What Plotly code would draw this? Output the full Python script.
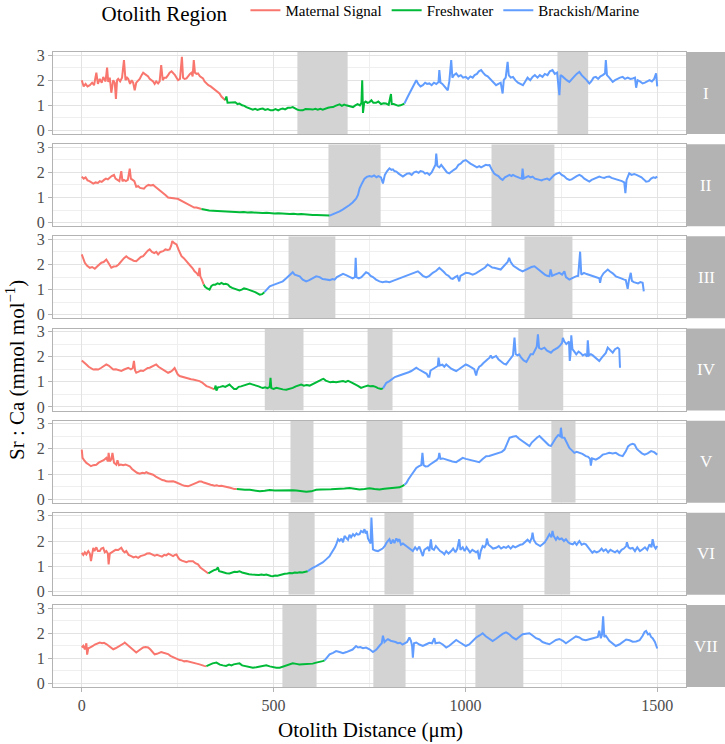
import plotly.graph_objects as go

PANELS = ["I", "II", "III", "IV", "V", "VI", "VII"]
REGIONS = ["Maternal Signal", "Freshwater", "Brackish/Marine"]
COLORS = ["#F8766D", "#00BA38", "#619CFF"]
X_TICKS = [0, 500, 1000, 1500]
Y_TICKS = [0, 1, 2, 3]

# (distance um, Sr:Ca) readings per fish
PTS_I = [(0,2.0),(5,1.75),(10,1.85),(15,1.75),(21,1.8),(27,1.9),(32,1.8),(38,2.3),(42,1.85),(47,2.05),(52,1.9),(56,2.13),(62,1.95),(66,2.5),(69,1.93),(73,2.1),(77,1.5),(82,2.0),(86,1.9),(89,1.25),(92,2.0),(95,2.05),(100,1.95),(105,2.1),(110,2.8),(114,2.0),(118,2.1),(121,2.05),(126,1.85),(130,2.0),(134,1.9),(138,1.6),(142,1.9),(146,1.95),(151,2.05),(156,2.2),(160,2.3),(164,2.25),(168,2.2),(173,2.15),(177,2.05),(181,2.0),(186,1.95),(190,1.85),(194,1.95),(199,1.87),(203,1.95),(207,2.6),(211,2.0),(215,2.1),(220,2.1),(225,2.2),(229,2.3),(234,2.35),(238,2.3),(243,2.2),(247,2.1),(251,2.0),(256,2.05),(261,2.93),(264,2.1),(268,2.05),(273,2.07),(278,2.2),(282,2.25),(286,2.3),(289,2.15),(292,2.8),(295,2.3),(299,2.25),(303,2.27),(308,2.15),(312,2.1),(316,2.07),(320,1.95),(325,1.87),(330,1.8),(336,1.75),(342,1.67),(348,1.6),(353,1.55),(359,1.47),(364,1.35),(369,1.28),(374,1.2),
         (377,1.35),(380,1.1),(388,1.1),(394,1.09),(400,1.12),(406,1.05),(411,1.07),(418,1.0),(424,0.98),(429,0.93),(435,0.9),(441,0.85),(446,0.83),(452,0.86),(458,0.82),(465,0.85),(472,0.87),(478,0.82),(485,0.85),(492,0.8),(498,0.8),(505,0.85),(512,0.8),(518,0.85),(524,0.87),(530,0.84),(537,0.9),(543,0.9),(550,0.93),(556,0.88),(563,0.82),(570,0.8),(576,0.8),(583,0.85),(590,0.83),(596,0.84),(602,0.83),(609,0.86),(615,0.83),(622,0.86),(628,0.83),(635,0.88),(642,0.9),(648,0.92),(655,0.93),(661,0.98),(667,1.02),(672,1.04),(678,0.98),(684,1.03),(689,1.0),(695,0.97),(701,0.95),(707,0.93),(713,1.0),(719,1.05),(725,1.0),(729,1.1),(731,2.0),(733,0.7),(736,1.1),(740,1.15),(745,1.1),(750,1.13),(755,1.2),(760,1.1),(767,1.1),(773,1.15),(780,1.05),(787,1.08),(793,1.07),(800,1.02),(806,1.45),(808,1.05),(813,1.05),(819,1.0),(825,0.98),(831,1.0),(837,1.05),(841,1.07),
         (846,1.2),(850,1.35),(854,1.47),(860,1.65),(866,1.85),(872,2.0),(877,1.85),(883,1.75),(889,1.8),(895,1.9),(900,1.85),(906,1.87),(912,1.8),(918,1.9),(924,1.85),(930,1.93),(932,2.4),(935,1.9),(940,1.85),(945,1.75),(950,1.65),(954,1.6),(958,1.95),(963,2.8),(966,2.1),(970,2.2),(976,2.27),(982,2.15),(988,2.2),(994,2.1),(1001,2.13),(1007,2.05),(1013,2.15),(1019,2.1),(1024,2.2),(1030,2.25),(1035,2.35),(1041,2.4),(1046,2.3),(1052,2.2),(1058,2.15),(1063,2.07),(1069,1.95),(1075,1.85),(1080,1.8),(1086,1.85),(1092,1.9),(1097,1.47),(1100,2.0),(1105,2.1),(1110,2.73),(1113,2.2),(1118,2.1),(1124,2.13),(1130,2.0),(1137,1.9),(1143,1.85),(1150,1.8),(1156,1.95),(1162,2.1),(1169,2.0),(1175,2.13),(1181,2.2),(1188,2.1),(1194,2.2),(1201,2.13),(1207,2.25),(1214,2.2),(1220,2.35),(1227,2.4),(1233,2.25),(1239,2.3),(1245,1.4),(1248,2.2),(1253,2.15),(1258,2.07),(1264,2.0),(1271,1.93),(1277,2.05),(1284,2.15),(1290,2.25),(1297,2.33),(1303,2.2),(1310,2.1),(1316,2.0),(1323,1.87),(1328,1.95),(1334,2.1),(1340,2.13),(1346,2.05),(1352,2.15),(1358,2.2),(1364,2.27),(1366,2.8),(1369,2.2),(1375,2.1),(1380,2.0),(1384,1.93),(1390,2.0),(1397,2.07),(1403,2.1),(1410,2.13),(1416,2.05),(1423,2.1),(1430,2.05),(1436,2.07),(1442,2.1),(1445,1.7),(1449,2.0),(1455,1.95),(1462,1.87),(1468,1.9),(1474,1.95),(1480,2.0),(1486,1.95),(1492,2.05),(1497,2.27),(1500,1.75)]

PTS_II = [(0,1.83),(5,1.75),(10,1.8),(15,1.68),(20,1.65),(25,1.6),(30,1.55),(36,1.6),(42,1.58),(47,1.65),(52,1.62),(58,1.7),(63,1.75),(68,1.72),(73,1.8),(78,1.85),(84,1.9),(88,1.75),(93,1.7),(98,1.65),(103,2.05),(106,1.65),(110,1.7),(115,1.65),(120,1.7),(125,2.15),(128,1.75),(132,1.72),(137,1.65),(142,1.43),(147,1.45),(152,1.38),(157,1.35),(162,1.35),(168,1.45),(174,1.5),(180,1.48),(186,1.5),(190,1.45),(194,1.4),(200,1.32),(206,1.25),(212,1.2),(218,1.1),(225,1.0),(231,0.98),(238,0.98),(244,0.96),(250,0.95),(256,0.9),(262,0.85),(268,0.78),(275,0.72),(281,0.68),(287,0.65),(293,0.6),(299,0.6),(305,0.57),(312,0.54),
          (322,0.5),(332,0.48),(342,0.47),(352,0.46),(362,0.45),(372,0.44),(382,0.45),(392,0.43),(402,0.42),(412,0.41),(422,0.42),(432,0.4),(442,0.41),(452,0.39),(462,0.4),(472,0.38),(482,0.39),(492,0.37),(502,0.36),(512,0.37),(522,0.35),(532,0.35),(542,0.34),(552,0.35),(562,0.33),(572,0.34),(582,0.32),(592,0.31),(602,0.3),(612,0.3),(622,0.29),(632,0.28),(640,0.28),(646,0.28),
          (655,0.33),(664,0.4),(672,0.45),(680,0.52),(689,0.6),(698,0.7),(706,0.8),(715,0.95),(720,1.1),(724,1.35),(730,1.55),(737,1.75),(743,1.82),(750,1.85),(756,1.83),(762,1.88),(768,1.8),(773,1.85),(776,1.83),(780,1.8),(785,1.56),(790,1.9),(796,2.05),(802,2.16),(807,2.1),(811,2.12),(815,2.05),(820,2.03),(826,1.95),(832,1.9),(837,1.83),(843,1.9),(848,1.95),(854,1.96),(860,1.9),(866,2.0),(872,2.03),(878,1.98),(883,2.05),(889,2.03),(895,1.95),(900,1.98),(906,1.9),(912,2.0),(918,2.15),(922,2.3),(924,2.75),(927,2.25),(932,2.2),(937,2.3),(941,2.22),(947,2.1),(952,2.0),(958,1.96),(964,2.05),(970,2.1),(976,2.16),(982,2.3),(988,2.35),(994,2.45),(1001,2.49),(1007,2.4),(1013,2.35),(1019,2.3),(1025,2.25),(1030,2.2),(1036,2.25),(1041,2.2),(1047,2.25),(1053,2.3),(1058,2.28),(1063,2.29),(1069,2.1),(1075,1.95),(1080,1.9),(1086,1.85),(1092,1.75),(1097,1.7),(1103,1.8),(1109,1.85),(1115,1.9),(1120,1.85),(1124,1.9),(1130,1.85),(1136,1.8),(1141,1.78),(1147,1.75),(1149,2.15),(1152,1.76),(1158,1.8),(1164,1.85),(1170,1.8),(1175,1.83),(1181,1.75),(1187,1.72),(1193,1.7),(1199,1.68),(1201,1.7),(1207,1.72),(1213,1.75),(1219,1.7),(1225,1.8),(1232,1.9),(1238,1.95),(1245,1.99),(1251,1.9),(1257,1.85),(1264,1.75),(1271,1.7),(1277,1.72),(1284,1.8),(1290,1.85),(1297,1.9),(1303,1.85),(1310,1.75),(1316,1.68),(1323,1.63),(1329,1.7),(1336,1.75),(1342,1.8),(1349,1.83),(1355,1.8),(1362,1.78),(1368,1.82),(1375,1.83),(1381,1.78),(1388,1.75),(1394,1.72),(1401,1.7),(1408,1.65),(1414,1.6),(1417,1.17),(1420,1.7),(1427,1.96),(1433,1.9),(1440,1.93),(1446,1.9),(1453,1.85),(1459,1.8),(1465,1.72),(1471,1.63),(1478,1.65),(1484,1.75),(1490,1.8),(1495,1.78),(1500,1.83)]

PTS_III = [(0,2.4),(4,2.2),(8,2.07),(14,1.95),(21,1.87),(27,1.9),(34,1.83),(40,1.92),(46,2.0),(51,2.07),(57,2.1),(64,2.2),(70,2.05),(77,1.87),(83,1.92),(90,1.93),(96,2.0),(103,2.15),(110,2.25),(116,2.33),(122,2.25),(129,2.2),(135,2.15),(142,2.13),(148,2.2),(154,2.3),(160,2.33),(166,2.45),(172,2.55),(177,2.6),(183,2.5),(189,2.45),(194,2.5),(199,2.4),(205,2.5),(212,2.53),(218,2.6),(224,2.58),(229,2.6),(233,2.75),(236,2.93),(241,2.85),(247,2.8),(252,2.6),(256,2.45),(260,2.33),(266,2.25),(271,2.15),(277,2.07),(283,1.95),(289,1.85),(294,1.73),(300,1.65),(304,1.55),(307,1.87),(309,1.53),(313,1.4),(318,1.2),
           (322,1.1),(327,1.05),(333,1.0),(338,1.15),(343,1.2),(348,1.2),(354,1.25),(359,1.22),(364,1.27),(370,1.22),(375,1.23),(381,1.2),(386,1.12),(392,1.07),(398,1.03),(404,1.0),(411,0.97),(417,1.0),(423,1.05),(429,1.03),(435,1.0),(440,0.96),(446,0.93),(452,0.9),(458,0.85),(464,0.8),(470,0.82),(476,0.9),
           (483,1.0),(490,1.13),(498,1.18),(507,1.24),(515,1.28),(524,1.33),(533,1.45),(542,1.6),(550,1.69),(555,1.6),(561,1.58),(568,1.53),(576,1.4),(585,1.33),(593,1.38),(602,1.45),(611,1.53),(620,1.5),(628,1.42),(637,1.4),(646,1.38),(654,1.42),(659,1.4),(665,1.5),(672,1.55),(681,1.63),(689,1.58),(698,1.5),(706,1.45),(712,1.5),(714,2.27),(716,1.5),(722,1.45),(729,1.5),(735,1.6),(741,1.69),(747,1.65),(753,1.55),(759,1.5),(767,1.4),(776,1.33),(784,1.3),(793,1.32),(802,1.3),(811,1.35),(819,1.4),(828,1.43),(837,1.5),(845,1.55),(854,1.6),(862,1.65),(870,1.7),(876,1.73),(882,1.65),(889,1.55),(898,1.49),(906,1.55),(915,1.67),(924,1.75),(932,1.87),(938,1.8),(944,1.7),(950,1.6),(956,1.55),(962,1.45),(967,1.43),(973,1.5),(979,1.55),(984,1.33),(987,1.55),(993,1.6),(1001,1.67),(1010,1.65),(1019,1.6),(1027,1.65),(1036,1.73),(1044,1.8),(1051,1.88),(1058,2.0),(1064,1.93),(1070,1.88),(1075,1.87),(1082,1.83),(1088,1.8),(1092,1.8),(1098,1.9),(1104,2.0),(1110,2.1),(1114,2.27),(1118,2.1),(1125,1.95),(1132,1.87),(1140,1.8),(1149,1.73),(1157,1.8),(1165,1.85),(1172,1.9),(1180,1.93),(1186,1.85),(1193,1.75),(1201,1.67),(1207,1.6),(1213,1.55),(1219,1.53),(1222,1.8),(1226,1.55),(1233,1.6),(1239,1.65),(1245,1.67),(1252,1.6),(1258,1.73),(1262,1.5),(1267,1.45),(1271,1.4),(1277,1.45),(1283,1.5),(1288,1.53),(1294,1.55),(1299,2.51),(1302,1.6),(1309,1.67),(1316,1.62),(1323,1.58),(1331,1.53),(1337,1.5),(1343,1.48),(1349,1.45),(1351,1.27),(1354,1.5),(1360,1.65),(1366,1.75),(1371,1.8),(1377,1.72),(1384,1.65),(1392,1.53),(1399,1.5),(1406,1.45),(1414,1.4),(1418,1.38),(1423,1.03),(1426,1.35),(1431,1.67),(1434,1.35),(1439,1.3),(1444,1.27),(1450,1.25),(1456,1.3),(1462,1.27),(1465,0.93)]

PTS_IV = [(0,1.85),(6,1.75),(12,1.69),(18,1.6),(24,1.55),(30,1.49),(37,1.5),(43,1.49),(50,1.55),(57,1.62),(64,1.69),(70,1.65),(76,1.55),(82,1.49),(89,1.5),(96,1.45),(103,1.43),(109,1.48),(115,1.52),(121,1.56),(128,1.5),(133,1.55),(136,1.83),(139,1.45),(142,1.36),(148,1.4),(154,1.45),(160,1.43),(166,1.5),(172,1.55),(177,1.56),(183,1.6),(188,1.65),(194,1.69),(200,1.6),(206,1.55),(212,1.49),(218,1.45),(225,1.36),(231,1.4),(236,1.45),(242,1.55),(246,1.4),(250,1.3),(255,1.23),(261,1.2),(267,1.18),(273,1.16),(279,1.12),(285,1.1),(290,1.09),(296,1.07),(302,1.05),(307,1.03),(313,0.98),(319,0.9),(325,0.83),(331,0.8),(337,0.75),(342,0.72),(346,0.7),
          (349,0.85),(351,0.65),(355,0.78),(361,0.8),(368,0.83),(374,0.8),(380,0.86),(385,0.89),(391,0.8),(397,0.72),(403,0.72),(409,0.8),(415,0.82),(420,0.85),(426,0.88),(432,0.9),(438,0.93),(444,0.9),(450,0.88),(455,0.85),(461,0.82),(467,0.78),(472,0.76),(478,0.78),(484,0.75),(490,0.8),(492,1.16),(494,0.75),(500,0.72),(507,0.76),(515,0.72),(524,0.7),(533,0.69),(541,0.72),(550,0.76),(558,0.82),(565,0.86),(572,0.89),(579,0.85),(586,0.87),(594,0.85),(601,0.9),(607,0.95),(613,0.97),(620,1.05),(626,1.1),(630,1.12),(636,1.05),(642,1.0),(648,0.98),(655,1.0),(663,0.98),(670,1.0),(676,1.02),(681,1.03),(688,1.0),(694,1.04),(700,1.0),(707,0.93),(715,0.88),(721,0.83),(728,0.76),(735,0.8),(741,0.82),(746,0.85),(752,0.82),(759,0.83),(766,0.8),(772,0.75),(780,0.72),(785,0.74),
          (790,0.85),(794,0.96),(802,1.03),(809,1.1),(816,1.19),(824,1.23),(831,1.26),(838,1.29),(845,1.33),(852,1.38),(859,1.43),(865,1.48),(872,1.56),(878,1.5),(885,1.45),(892,1.4),(899,1.32),(903,1.2),(906,1.2),(909,1.45),(915,1.5),(922,1.55),(928,1.63),(930,1.96),(933,1.65),(940,1.68),(945,1.6),(950,1.69),(956,1.6),(963,1.52),(970,1.47),(976,1.43),(983,1.5),(990,1.58),(996,1.65),(1001,1.69),(1007,1.65),(1013,1.6),(1019,1.55),(1023,1.5),(1028,1.25),(1031,1.45),(1036,1.6),(1041,1.65),(1047,1.75),(1053,1.85),(1058,1.9),(1063,1.96),(1066,2.05),(1070,1.95),(1075,2.0),(1080,2.03),(1086,1.9),(1093,1.8),(1100,1.72),(1106,1.69),(1112,1.8),(1119,1.95),(1124,2.05),(1128,2.76),(1131,2.1),(1136,2.05),(1140,2.09),(1146,1.95),(1152,1.85),(1159,1.79),(1165,1.95),(1170,2.1),(1176,2.1),(1182,2.3),(1186,2.4),(1189,2.89),(1192,2.35),(1198,2.3),(1206,2.36),(1212,2.25),(1218,2.2),(1223,2.16),(1229,2.25),(1235,2.3),(1241,2.36),(1247,2.45),(1252,2.55),(1254,2.75),(1258,2.6),(1263,2.5),(1267,2.56),(1270,2.6),(1272,1.83),(1274,2.1),(1276,2.85),(1279,2.3),(1284,2.2),(1289,2.09),(1295,2.2),(1300,2.15),(1306,2.05),(1312,2.1),(1317,2.0),(1319,2.65),(1322,2.05),(1327,2.1),(1332,2.05),(1338,1.98),(1343,1.9),(1349,1.83),(1355,1.95),(1360,2.05),(1366,2.15),(1371,2.36),(1377,2.25),(1384,2.16),(1390,2.3),(1397,2.36),(1401,2.3),(1403,1.56)]

PTS_V = [(0,1.97),(2,1.64),(6,1.55),(12,1.44),(18,1.38),(24,1.31),(30,1.35),(38,1.37),(44,1.45),(51,1.5),(57,1.55),(64,1.64),(68,1.5),(70,1.84),(73,1.5),(77,1.58),(80,1.84),(84,1.45),(90,1.37),(93,1.55),(97,1.35),(102,1.38),(108,1.35),(114,1.38),(120,1.35),(125,1.31),(131,1.2),(138,1.11),(144,1.05),(151,1.01),(158,1.05),(164,1.03),(168,1.07),(174,1.03),(180,1.0),(186,0.97),(193,0.9),(199,0.85),(203,0.8),(210,0.76),(216,0.74),(220,0.71),(226,0.7),(232,0.72),(238,0.71),(244,0.68),(250,0.63),(255,0.61),(261,0.57),(268,0.53),(277,0.51),(283,0.55),(289,0.6),(294,0.63),(300,0.66),(306,0.7),(312,0.7),(318,0.66),(324,0.62),(330,0.61),(336,0.57),(342,0.55),(346,0.53),(352,0.55),(358,0.52),(364,0.53),(370,0.5),(376,0.48),(381,0.47),(387,0.45),(393,0.42),(398,0.4),(404,0.4),
         (415,0.38),(425,0.37),(438,0.37),(450,0.34),(464,0.31),(477,0.33),(490,0.36),(503,0.34),(516,0.35),(529,0.36),(542,0.37),(550,0.35),(559,0.34),(572,0.32),(585,0.29),(598,0.31),(611,0.37),(624,0.38),(637,0.4),(650,0.39),(661,0.4),(672,0.4),(685,0.42),(698,0.44),(711,0.4),(724,0.38),(737,0.4),(750,0.43),(763,0.4),(776,0.38),(789,0.41),(802,0.42),(815,0.45),(828,0.47),(835,0.52),(841,0.57),
         (846,0.64),(852,0.8),(859,0.97),(865,1.1),(872,1.24),(878,1.3),(885,1.35),(888,1.84),(891,1.35),(896,1.3),(902,1.31),(908,1.38),(915,1.47),(920,1.5),(925,1.55),(930,1.64),(932,1.84),(935,1.6),(941,1.62),(950,1.57),(958,1.52),(966,1.5),(976,1.47),(984,1.55),(993,1.64),(1001,1.6),(1010,1.57),(1019,1.55),(1027,1.5),(1036,1.47),(1045,1.6),(1054,1.71),(1062,1.72),(1071,1.77),(1080,1.8),(1089,1.84),(1095,1.88),(1102,1.97),(1108,2.2),(1115,2.44),(1123,2.48),(1132,2.51),(1140,2.4),(1149,2.31),(1158,2.2),(1167,2.11),(1173,2.25),(1180,2.37),(1187,2.45),(1193,2.51),(1201,2.38),(1210,2.24),(1217,2.15),(1223,2.11),(1230,2.3),(1236,2.44),(1242,2.55),(1247,2.5),(1249,2.84),(1252,2.45),(1258,2.44),(1264,2.25),(1271,2.04),(1277,1.95),(1284,1.84),(1290,1.88),(1297,1.84),(1305,1.8),(1314,1.71),(1320,1.68),(1325,1.6),(1327,1.33),(1330,1.62),(1335,1.6),(1340,1.57),(1349,1.65),(1358,1.77),(1366,1.8),(1375,1.84),(1384,1.82),(1392,1.84),(1401,1.75),(1410,1.71),(1418,1.9),(1424,2.1),(1430,2.17),(1436,2.2),(1441,2.17),(1447,2.0),(1453,1.91),(1460,1.82),(1467,1.77),(1475,1.82),(1484,1.91),(1492,1.87),(1500,1.77)]

PTS_VI = [(0,1.53),(4,1.45),(8,1.55),(12,1.47),(17,1.6),(21,1.5),(24,1.2),(27,1.55),(30,1.73),(33,1.6),(38,1.75),(42,1.6),(47,1.6),(51,1.7),(56,1.73),(60,1.55),(64,1.6),(68,1.5),(70,1.07),(73,1.5),(77,1.55),(82,1.6),(88,1.65),(95,1.64),(100,1.7),(103,1.73),(108,1.6),(112,1.55),(116,1.6),(122,1.45),(129,1.4),(135,1.35),(141,1.38),(147,1.33),(153,1.4),(158,1.42),(164,1.45),(170,1.5),(177,1.51),(183,1.47),(190,1.42),(196,1.45),(203,1.4),(209,1.38),(215,1.45),(220,1.43),(226,1.5),(232,1.45),(238,1.4),(243,1.45),(247,1.47),(251,1.35),(255,1.27),(261,1.22),(267,1.2),(273,1.16),(279,1.2),(285,1.2),(290,1.2),(296,1.12),(303,1.07),(309,0.95),(316,0.87),(322,0.8),(327,0.75),(330,0.71),
          (334,0.76),(340,0.8),(346,0.85),(351,0.87),(355,0.95),(358,0.8),(364,0.78),(370,0.75),(377,0.72),(385,0.71),(391,0.75),(398,0.78),(405,0.77),(411,0.8),(418,0.75),(424,0.72),(429,0.71),(436,0.68),(443,0.67),(449,0.66),(455,0.67),(462,0.65),(468,0.67),(475,0.65),(481,0.67),(487,0.63),(493,0.61),(498,0.6),(504,0.63),(510,0.62),(516,0.65),(523,0.68),(529,0.7),(536,0.71),(542,0.73),(549,0.72),(555,0.75),(562,0.74),(568,0.76),(575,0.75),(582,0.76),(589,0.8),
          (596,0.88),(602,0.93),(611,1.0),(620,1.07),(628,1.15),(637,1.27),(646,1.4),(650,1.5),(655,1.6),(660,1.75),(664,1.9),(668,2.07),(672,2.0),(677,2.1),(681,1.95),(685,2.2),(689,2.13),(694,2.05),(698,2.25),(702,2.15),(707,2.27),(711,2.2),(716,2.3),(720,2.25),(724,2.27),(728,2.4),(733,2.35),(737,2.47),(740,2.3),(743,2.4),(746,2.1),(750,2.0),(753,1.9),(755,2.93),(757,1.7),(759,1.67),(765,1.62),(772,1.6),(778,1.65),(784,1.7),(790,1.8),(795,1.95),(802,2.07),(806,1.9),(811,2.05),(815,1.92),(820,2.1),(824,2.0),(828,2.07),(832,1.85),(837,1.9),(845,1.8),(850,1.75),(856,1.7),(863,1.6),(869,1.75),(874,1.65),(880,1.78),(885,1.6),(889,1.4),(893,1.65),(898,1.7),(902,1.75),(906,1.6),(910,2.07),(913,1.7),(918,1.65),(923,1.8),(928,1.7),(934,1.6),(940,1.55),(945,1.47),(950,1.6),(956,1.5),(963,1.6),(968,1.7),(974,1.55),(979,1.7),(984,2.07),(987,1.65),(993,1.75),(998,1.6),(1003,1.75),(1006,1.67),(1012,1.55),(1018,1.65),(1023,1.6),(1028,1.55),(1032,1.6),(1036,1.27),(1040,1.6),(1045,1.8),(1050,1.75),(1054,1.87),(1056,2.1),(1060,1.85),(1066,1.78),(1072,1.7),(1080,1.73),(1087,1.8),(1093,1.7),(1100,1.77),(1106,1.73),(1112,1.8),(1118,1.7),(1124,1.8),(1130,1.75),(1137,1.82),(1143,1.85),(1149,1.87),(1156,1.95),(1162,2.05),(1168,1.95),(1173,2.13),(1175,2.33),(1178,2.05),(1184,1.9),(1190,1.85),(1195,1.8),(1201,1.87),(1207,1.95),(1213,2.1),(1219,2.27),(1224,2.15),(1227,2.4),(1230,2.2),(1236,2.05),(1240,2.15),(1245,2.07),(1251,2.1),(1257,2.0),(1262,2.07),(1268,1.95),(1273,1.9),(1280,1.87),(1285,1.95),(1290,1.85),(1297,2.0),(1303,1.85),(1309,1.9),(1314,1.87),(1320,1.75),(1326,1.65),(1331,1.53),(1336,1.6),(1342,1.55),(1349,1.6),(1355,1.7),(1360,1.6),(1366,1.67),(1372,1.55),(1378,1.65),(1384,1.6),(1390,1.55),(1396,1.62),(1401,1.53),(1407,1.65),(1413,1.7),(1419,1.8),(1421,1.95),(1425,1.75),(1430,1.7),(1436,1.73),(1442,1.6),(1448,1.75),(1455,1.6),(1462,1.67),(1468,1.75),(1474,1.65),(1480,1.87),(1485,1.75),(1488,2.07),(1492,1.8),(1496,1.7),(1500,1.8)]

PTS_VII = [(0,1.43),(4,1.5),(8,1.36),(10,1.55),(12,1.6),(14,1.15),(17,1.4),(21,1.43),(25,1.45),(29,1.49),(34,1.55),(40,1.6),(47,1.63),(53,1.6),(58,1.62),(64,1.57),(70,1.5),(76,1.42),(82,1.36),(88,1.4),(94,1.45),(99,1.48),(105,1.55),(110,1.6),(112,1.63),(118,1.55),(125,1.45),(131,1.38),(137,1.3),(142,1.23),(148,1.3),(154,1.38),(160,1.43),(166,1.45),(173,1.43),(179,1.35),(184,1.25),(190,1.16),(196,1.18),(202,1.23),(207,1.25),(213,1.22),(219,1.2),(225,1.17),(231,1.1),(238,1.05),(243,1.0),(249,0.95),(255,0.93),(261,0.92),(267,0.88),(273,0.89),(279,0.87),(285,0.86),(290,0.85),(296,0.82),(302,0.78),(307,0.76),(313,0.72),(319,0.7),(325,0.69),
           (333,0.76),(341,0.8),(351,0.83),(356,0.78),(360,0.75),(368,0.72),(376,0.7),(384,0.75),(390,0.72),(396,0.76),(403,0.78),(411,0.8),(418,0.72),(425,0.7),(429,0.67),(437,0.65),(446,0.63),(455,0.65),(464,0.67),(472,0.7),(481,0.72),(490,0.68),(498,0.65),(507,0.63),(516,0.63),(524,0.67),(533,0.72),(541,0.76),(550,0.8),(559,0.78),(567,0.76),(576,0.77),(585,0.78),(594,0.8),(602,0.79),(611,0.83),(620,0.85),(628,0.89),(633,0.92),
           (640,1.05),(646,1.16),(655,1.22),(663,1.29),(672,1.25),(681,1.2),(690,1.25),(698,1.29),(706,1.35),(715,1.49),(720,1.43),(726,1.45),(733,1.4),(741,1.43),(750,1.36),(759,1.25),(768,1.35),(776,1.5),(782,1.6),(785,1.9),(789,1.65),(794,1.72),(798,1.76),(805,1.7),(811,1.69),(818,1.65),(824,1.6),(830,1.62),(836,1.55),(842,1.6),(848,1.65),(854,1.83),(858,1.7),(861,1.5),(863,1.03),(866,1.6),(872,1.63),(880,1.55),(889,1.49),(897,1.55),(906,1.62),(913,1.6),(919,1.8),(922,1.6),(927,1.62),(932,1.63),(941,1.55),(950,1.43),(958,1.5),(967,1.62),(976,1.73),(984,1.65),(993,1.55),(1001,1.49),(1010,1.55),(1019,1.7),(1028,1.83),(1036,1.9),(1045,2.0),(1053,1.88),(1062,1.78),(1071,1.69),(1080,1.78),(1089,1.88),(1097,1.97),(1106,2.03),(1115,1.95),(1123,1.83),(1132,1.75),(1140,1.85),(1149,1.96),(1158,1.98),(1167,2.0),(1176,1.9),(1184,1.8),(1193,1.75),(1201,1.65),(1210,1.6),(1219,1.56),(1228,1.65),(1236,1.73),(1245,1.77),(1254,1.7),(1262,1.6),(1271,1.68),(1279,1.78),(1288,1.87),(1297,1.83),(1305,1.75),(1314,1.72),(1323,1.76),(1332,1.8),(1340,1.83),(1345,1.85),(1349,2.1),(1353,1.8),(1356,1.95),(1359,2.67),(1362,1.85),(1366,1.9),(1375,1.7),(1384,1.58),(1392,1.49),(1401,1.55),(1410,1.65),(1419,1.75),(1428,1.72),(1436,1.66),(1445,1.67),(1454,1.72),(1462,1.9),(1467,2.05),(1471,2.09),(1476,1.95),(1480,1.98),(1484,1.85),(1488,1.8),(1494,1.65),(1500,1.39)]

# region boundaries (end of maternal, end of freshwater), um
BOUNDS = [(374, 841), (312, 646), (318, 476), (346, 785), (404, 841), (330, 589), (325, 633)]
# grey highlighted windows, um
SHADES = [[(562, 693), (1240, 1320)],
          [(643, 779), (1068, 1232)],
          [(539, 661), (1154, 1279)],
          [(477, 578), (745, 810), (1138, 1255)],
          [(544, 604), (742, 836), (1224, 1287)],
          [(539, 607), (789, 865), (1206, 1273)],
          [(523, 612), (760, 844), (1026, 1151)]]

ALL_PTS = [PTS_I, PTS_II, PTS_III, PTS_IV, PTS_V, PTS_VI, PTS_VII]

W, H = 725, 744
FONT = "Liberation Serif"
PX_L, PX_R = 53, 686
STRIP_L = 687
TOP0, PITCH, PH = 52, 92.17, 82

fig = go.Figure()
layout = dict(width=W, height=H, margin=dict(l=0, r=0, t=0, b=0, autoexpand=False),
              paper_bgcolor="white", plot_bgcolor="white",
              font=dict(family=FONT, color="black"), shapes=[], annotations=[])

for i, (name, pts) in enumerate(zip(PANELS, ALL_PTS)):
    k = "" if i == 0 else str(i + 1)
    xs = [p[0] for p in pts]
    ys = [p[1] for p in pts]
    b1, b2 = BOUNDS[i]
    segs = [
        ([x for x in xs if x <= b1], [y for x, y in zip(xs, ys) if x <= b1]),
        ([x for x in xs if b1 <= x <= b2], [y for x, y in zip(xs, ys) if b1 <= x <= b2]),
        ([x for x in xs if x >= b2], [y for x, y in zip(xs, ys) if x >= b2]),
    ]
    for r, (sx, sy) in enumerate(segs):
        fig.add_trace(go.Scatter(x=sx, y=sy, mode="lines", name=REGIONS[r],
                                 legendgroup=REGIONS[r], showlegend=(i == 0),
                                 line=dict(color=COLORS[r], width=2),
                                 xaxis="x" + k, yaxis="y" + k, hoverinfo="skip"))
    top = TOP0 + PITCH * i
    dom = [1 - (top + PH) / H, 1 - top / H]
    last = i == len(PANELS) - 1
    layout["xaxis" + k] = dict(domain=[PX_L / W, PX_R / W], range=[-75, 1575], anchor="y" + k,
                               tickvals=X_TICKS, showticklabels=last,
                               ticks="outside" if last else "", ticklen=4, tickcolor="#B3B3B3",
                               tickfont=dict(size=16, color="#4D4D4D", family=FONT),
                               showgrid=True, gridcolor="#E3E3E3", gridwidth=1,
                               minor=dict(dtick=250, tick0=0, showgrid=True, gridcolor="#EFEFEF", gridwidth=1),
                               showline=True, mirror=True, linecolor="#B3B3B3", linewidth=1.2,
                               zeroline=False, fixedrange=True, automargin=False)
    layout["yaxis" + k] = dict(domain=dom, range=[-0.14, 3.12], anchor="x" + k,
                               tickvals=Y_TICKS, ticks="outside", ticklen=4, tickcolor="#B3B3B3",
                               tickfont=dict(size=16, color="#4D4D4D", family=FONT),
                               showgrid=True, gridcolor="#E3E3E3", gridwidth=1,
                               minor=dict(dtick=0.5, tick0=0, showgrid=True, gridcolor="#EFEFEF", gridwidth=1),
                               showline=True, mirror=True, linecolor="#B3B3B3", linewidth=1.2,
                               zeroline=False, fixedrange=True, automargin=False)
    for (a, b) in SHADES[i]:
        layout["shapes"].append(dict(type="rect", xref="x" + k, yref="y" + k, x0=a, x1=b,
                                     y0=-0.14, y1=3.12, fillcolor="#D3D3D3", line=dict(width=0),
                                     layer="between"))
    layout["shapes"].append(dict(type="rect", xref="paper", yref="paper", x0=STRIP_L / W, x1=1,
                                 y0=dom[0], y1=dom[1], fillcolor="#B3B3B3", line=dict(width=0)))
    layout["annotations"].append(dict(text=name, xref="paper", yref="paper",
                                      x=(STRIP_L + W) / 2 / W, y=(dom[0] + dom[1]) / 2,
                                      xanchor="center", yanchor="middle",
                                      showarrow=False, font=dict(size=17, color="white", family=FONT)))

layout["annotations"].append(dict(text="Sr : Ca (mmol mol<sup>\u22121</sup>)", xref="paper", yref="paper",
                                  x=15 / W, y=1 - 370 / H, xanchor="center", yanchor="middle",
                                  textangle=-90, showarrow=False,
                                  font=dict(size=21, color="black", family=FONT)))
layout["annotations"].append(dict(text="Otolith Distance (\u03bcm)", xref="paper", yref="paper",
                                  x=370 / W, y=1 - 730 / H, xanchor="center", yanchor="middle",
                                  showarrow=False,
                                  font=dict(size=21, color="black", family=FONT)))
layout["legend"] = dict(orientation="h", x=372 / W, xanchor="center", y=1 - 13 / H, yanchor="middle",
                        title=dict(text="Otolith Region  ", font=dict(size=21, family=FONT, color="black"), side="left"),
                        font=dict(size=15, family=FONT, color="black"), bgcolor="rgba(0,0,0,0)",
                        itemwidth=30, tracegroupgap=0)

fig.update_layout(**layout)
fig.write_html("out.html")
